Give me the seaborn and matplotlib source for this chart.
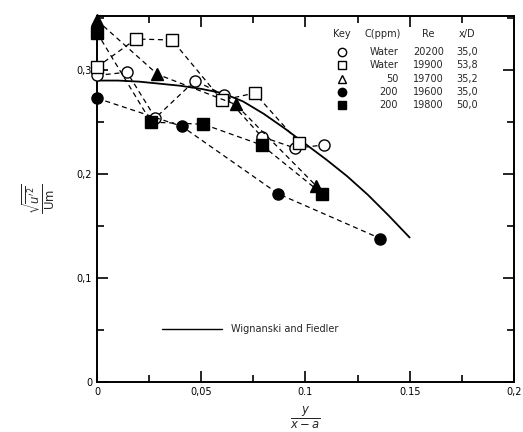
import seaborn as sns
import matplotlib.pyplot as plt
from matplotlib.ticker import MultipleLocator, FixedLocator, FixedFormatter

# Data
circ_open_x = [0.0, 0.0144, 0.028, 0.047, 0.061, 0.079, 0.095, 0.109]
circ_open_y = [0.295, 0.298, 0.254, 0.290, 0.276, 0.236, 0.225, 0.228]

sq_open_x = [0.0, 0.0187, 0.036, 0.060, 0.0756, 0.097]
sq_open_y = [0.303, 0.330, 0.329, 0.271, 0.278, 0.230]

tri_x = [0.0, 0.029, 0.0665, 0.105]
tri_y = [0.348, 0.296, 0.267, 0.189]

circ_fill_x = [0.0, 0.0407, 0.087, 0.136]
circ_fill_y = [0.273, 0.246, 0.181, 0.138]

sq_fill_x = [0.0, 0.026, 0.051, 0.079, 0.108]
sq_fill_y = [0.336, 0.250, 0.248, 0.228, 0.181]

# Wygnanski and Fiedler curve
wf_x = [0.0, 0.01, 0.02, 0.03, 0.04, 0.05, 0.06, 0.07, 0.08, 0.09, 0.10,
        0.11, 0.12, 0.13, 0.14, 0.15]
wf_y = [0.290, 0.290, 0.289, 0.287, 0.285, 0.282, 0.278, 0.270, 0.258,
        0.244, 0.229, 0.214, 0.198, 0.180, 0.160, 0.139]

key_conc = ["Water", "Water", "50", "200", "200"]
key_re = ["20200", "19900", "19700", "19600", "19800"]
key_xd = ["35,0", "53,8", "35,2", "35,0", "50,0"]
key_markers = ["o", "s", "^", "o", "s"]
key_fill = ["white", "white", "white", "black", "black"]

sns.set_style("ticks")
plt.rcParams['font.family'] = ['DejaVu Sans']

fig = plt.figure(figsize=(5.23, 4.32), dpi=100)
ax = fig.add_axes([0.1855, 0.1157, 0.797, 0.847])

series = [
    (circ_open_x, circ_open_y, "o", "white"),
    (sq_open_x, sq_open_y, "s", "white"),
    (tri_x, tri_y, "^", "black"),
    (circ_fill_x, circ_fill_y, "o", "black"),
    (sq_fill_x, sq_fill_y, "s", "black"),
]
for xs, ys, mk, fc in series:
    sns.lineplot(x=xs, y=ys, ax=ax, sort=False, estimator=None,
                 color="black", linewidth=0.9, dashes=False,
                 linestyle=(0, (4, 3)), marker=mk, markersize=8,
                 markerfacecolor=fc, markeredgecolor="black",
                 markeredgewidth=1.0, clip_on=False, zorder=3)

sns.lineplot(x=wf_x, y=wf_y, ax=ax, sort=False, estimator=None,
             color="black", linewidth=1.3, zorder=2)

ax.set_xlim(0, 0.2)
ax.set_ylim(0, 0.352)

ax.xaxis.set_major_locator(FixedLocator([0, 0.05, 0.1, 0.15, 0.2]))
ax.xaxis.set_major_formatter(FixedFormatter(["0", "0,05", "0.1", "0.15", "0,2"]))
ax.xaxis.set_minor_locator(MultipleLocator(0.025))
ax.yaxis.set_major_locator(FixedLocator([0, 0.1, 0.2, 0.3]))
ax.yaxis.set_major_formatter(FixedFormatter(["0", "0,1", "0,2", "0,3"]))
ax.yaxis.set_minor_locator(MultipleLocator(0.05))

ax.tick_params(which="both", direction="in", top=True, right=True,
               labelsize=7, width=1.2, colors="black")
ax.tick_params(which="major", length=8)
ax.tick_params(which="minor", length=5)
for s in ax.spines.values():
    s.set_linewidth(1.4)
    s.set_color("black")

ax.set_xlabel(r"$\frac{y}{x-a}$", fontsize=12, labelpad=6)
ax.set_ylabel(r"$\frac{\sqrt{\overline{u^{\prime 2}}}}{\mathrm{Um}}$",
              fontsize=12, labelpad=14)

# Key table
tr = ax.transData
fs = 7
hy = 0.335
ax.text(0.1175, hy, "Key", fontsize=fs, ha="center", va="center")
ax.text(0.137, hy, "C(ppm)", fontsize=fs, ha="center", va="center")
ax.text(0.159, hy, "Re", fontsize=fs, ha="center", va="center")
ax.text(0.1775, hy, "x/D", fontsize=fs, ha="center", va="center")
for i in range(5):
    yy = hy - 0.0175 - i * 0.0128
    ax.plot([0.1175], [yy], marker=key_markers[i], markersize=6,
            markerfacecolor=key_fill[i], markeredgecolor="black",
            color="black", linestyle="none")
    ax.text(0.1445, yy, key_conc[i], fontsize=fs, ha="right", va="center")
    ax.text(0.159, yy, key_re[i], fontsize=fs, ha="center", va="center")
    ax.text(0.1775, yy, key_xd[i], fontsize=fs, ha="center", va="center")

ax.plot([0.031, 0.060], [0.051, 0.051], color="black", linewidth=1.0)
ax.text(0.0645, 0.051, "Wignanski and Fiedler", fontsize=fs,
        ha="left", va="center")

fig.savefig("out.png", dpi=100)
